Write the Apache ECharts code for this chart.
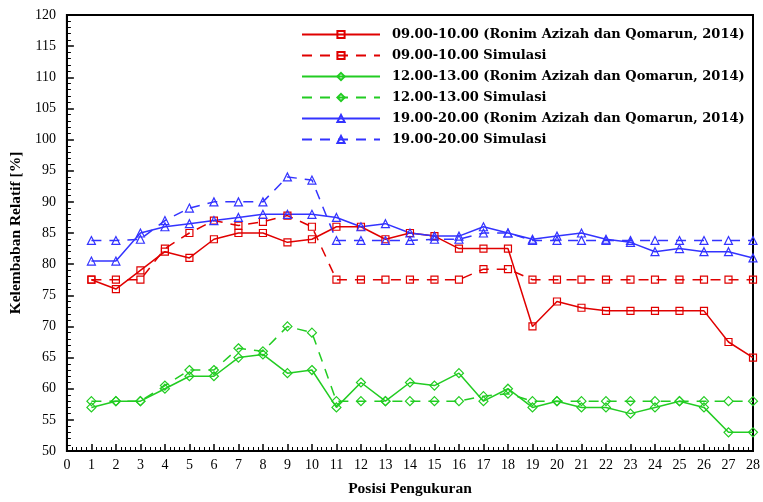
<!DOCTYPE html>
<html>
<head>
<meta charset="utf-8">
<script src="https://cdn.jsdelivr.net/npm/echarts@6/dist/echarts.min.js"></script>
<style>
  html, body { margin: 0; padding: 0; background: #fff; }
  #chart { width: 763px; height: 502px; }
</style>
</head>
<body>
<div id="chart"></div>
<script>
// Measurement positions 1..28
const positions = [1,2,3,4,5,6,7,8,9,10,11,12,13,14,15,16,17,18,19,20,21,22,23,24,25,26,27,28];

// Relative humidity [%] per time window
const rh0910Exp = [77.5,76,79,82,81,84,85,85,83.5,84,86,86,84,85,84.5,82.5,82.5,82.5,70,74,73,72.5,72.5,72.5,72.5,72.5,67.5,65];
const rh0910Sim = [77.5,77.5,77.5,82.5,85,87,86.2,86.8,87.8,86,77.5,77.5,77.5,77.5,77.5,77.5,79.2,79.2,77.5,77.5,77.5,77.5,77.5,77.5,77.5,77.5,77.5,77.5];
const rh1213Exp = [57,58,58,60,62,62,65,65.5,62.5,63,57,61,58,61,60.5,62.5,58,60,57,58,57,57,56,57,58,57,53,53];
const rh1213Sim = [58,58,58,60.5,63,63,66.5,66,70,69,58,58,58,58,58,58,58.8,59.2,58,58,58,58,58,58,58,58,58,58];
const rh1920Exp = [80.5,80.5,85,86,86.5,87,87.5,88,88,88,87.5,86,86.5,85,84.5,84.5,86,85,84,84.5,85,84,83.5,82,82.5,82,82,81];
const rh1920Sim = [83.8,83.8,84,87,89,90,90,90,94,93.5,83.8,83.8,83.8,83.8,84,84,85,85,83.8,83.8,83.8,83.8,83.8,83.8,83.8,83.8,83.8,83.8];

const seriesNames = [
  '09.00-10.00 (Ronim Azizah dan Qomarun, 2014)',
  '09.00-10.00 Simulasi',
  '12.00-13.00 (Ronim Azizah dan Qomarun, 2014)',
  '12.00-13.00 Simulasi',
  '19.00-20.00 (Ronim Azizah dan Qomarun, 2014)',
  '19.00-20.00 Simulasi'
];

const RED = '#e00000', GREEN = '#22cc22', BLUE = '#3333ff';
const DASH = [10, 8];
const serif = 'Liberation Serif';

function makeSeries(name, values, color, symbol, size, dashed) {
  return {
    name: name,
    type: 'line',
    data: positions.map((p, i) => [p, values[i]]),
    symbol: symbol,
    symbolSize: size,
    showSymbol: true,
    clip: false,
    lineStyle: { color: color, width: 1.5, type: dashed ? DASH : 'solid' },
    itemStyle: { color: 'rgba(255,255,255,0)', borderColor: color, borderWidth: 1.2 },
    emphasis: { disabled: true },
    animation: false
  };
}

const chart = echarts.init(document.getElementById('chart'), null, { renderer: 'canvas' });
chart.setOption({
  backgroundColor: '#fff',
  animation: false,
  grid: {
    left: 62, right: 7, top: 15, bottom: 39,
    show: true, borderColor: '#000', borderWidth: 2, backgroundColor: 'transparent'
  },
  legend: {
    orient: 'vertical',
    left: 296, top: 23,
    itemWidth: 78, itemHeight: 9, itemGap: 8,
    textStyle: { fontFamily: 'DejaVu Serif', fontWeight: 'bold', fontSize: 13, color: '#000', padding: [0, 0, 0, 7] },
    data: seriesNames
  },
  xAxis: {
    type: 'value',
    min: 0, max: 28, interval: 1,
    name: 'Posisi Pengukuran',
    nameLocation: 'middle',
    nameGap: 30,
    nameTextStyle: { fontFamily: serif, fontWeight: 'bold', fontSize: 15.5, color: '#000' },
    axisLine: { show: true, lineStyle: { color: '#000', width: 2 } },
    axisTick: { show: true, inside: true, length: 7, lineStyle: { color: '#000', width: 1.5 } },
    minorTick: { show: true, splitNumber: 5, length: 4, lineStyle: { color: '#000', width: 1 } },
    axisLabel: { fontFamily: serif, fontSize: 14, color: '#000', margin: 7 },
    splitLine: { show: false }
  },
  yAxis: {
    type: 'value',
    min: 50, max: 120, interval: 5,
    name: 'Kelembaban Relatif [%]',
    nameLocation: 'middle',
    nameGap: 41,
    nameTextStyle: { fontFamily: serif, fontWeight: 'bold', fontSize: 15.5, color: '#000' },
    axisLine: { show: true, lineStyle: { color: '#000', width: 2 } },
    axisTick: { show: true, inside: true, length: 7, lineStyle: { color: '#000', width: 1.5 } },
    minorTick: { show: true, splitNumber: 5, length: 4, lineStyle: { color: '#000', width: 1 } },
    axisLabel: { fontFamily: serif, fontSize: 14, color: '#000', margin: 11 },
    splitLine: { show: false }
  },
  series: [
    makeSeries(seriesNames[0], rh0910Exp, RED, 'rect', 7, false),
    makeSeries(seriesNames[1], rh0910Sim, RED, 'rect', 7, true),
    makeSeries(seriesNames[2], rh1213Exp, GREEN, 'diamond', 9, false),
    makeSeries(seriesNames[3], rh1213Sim, GREEN, 'diamond', 9, true),
    makeSeries(seriesNames[4], rh1920Exp, BLUE, 'triangle', 8, false),
    makeSeries(seriesNames[5], rh1920Sim, BLUE, 'triangle', 8, true)
  ]
});
</script>
</body>
</html>
